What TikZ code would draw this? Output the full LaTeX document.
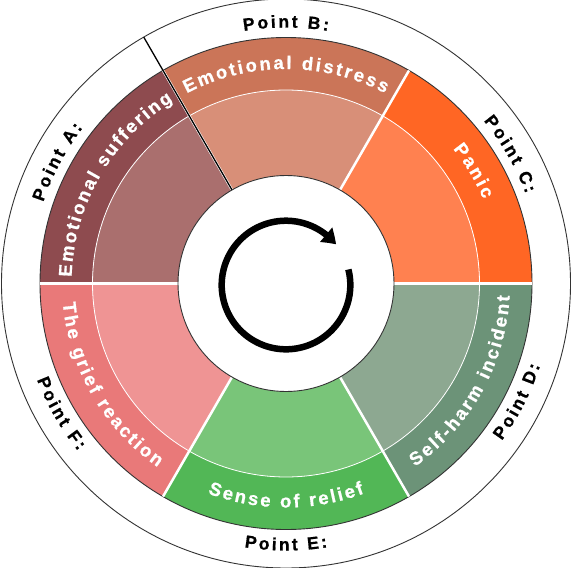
\documentclass[tikz,border=0pt]{standalone}
\usepackage{fontspec}
\setmainfont{Liberation Sans}
\newfontfamily\labbold{Liberation Sans Bold}[FakeBold=0.8]
\usetikzlibrary{calc,arrows.meta,bending}
\definecolor{aout}{HTML}{8E4B4F}
\definecolor{ain}{HTML}{AA6F6E}
\definecolor{bout}{HTML}{CB7558}
\definecolor{bin}{HTML}{D88F78}
\definecolor{cout}{HTML}{FF6624}
\definecolor{cin}{HTML}{FF8150}
\definecolor{dout}{HTML}{6C9378}
\definecolor{din}{HTML}{8DA891}
\definecolor{eout}{HTML}{52B756}
\definecolor{ein}{HTML}{79C579}
\definecolor{fout}{HTML}{E97979}
\definecolor{fin}{HTML}{EF9494}
\definecolor{edgegray}{HTML}{333333}
\newcommand\wfont{\color{white}\labbold\fontsize{18.5}{18.5}\selectfont}
\newcommand\pfont{\color{black}\labbold\fontsize{17.5}{17.5}\selectfont}
\newcommand\ringsector[5]{\fill[#5] ($(C)+(#1:#4)$) arc[start angle=#1,end angle=#2,radius=#4] -- ($(C)+(#2:#3)$) arc[start angle=#2,end angle=#1,radius=#3] -- cycle;}
\newcounter{arcch}
\newcommand\arcplace[4]{\stepcounter{arcch}\node[anchor=base,inner sep=0pt,outer sep=0pt,rotate=#3] (ch\thearcch) at ($(C)+(#1:#2)$) {#4};}
\ExplSyntaxOn
\dim_new:N \l__arc_total_dim
\dim_new:N \l__arc_pos_dim
\dim_new:N \l__arc_track_dim
\box_new:N \l__arc_box
\tl_new:N \g__arc_nodes_tl
\NewDocumentCommand \arctext { m m m m m m }
  {
    \dim_set:Nn \l__arc_track_dim {#4}
    \dim_zero:N \l__arc_total_dim
    \str_map_inline:nn {#6}
      {
        \hbox_set:Nn \l__arc_box { #5 ##1 }
        \dim_add:Nn \l__arc_total_dim { \box_wd:N \l__arc_box + \l__arc_track_dim }
      }
    \dim_sub:Nn \l__arc_total_dim { \l__arc_track_dim }
    \dim_set:Nn \l__arc_pos_dim { -0.5 \l__arc_total_dim }
    \str_map_inline:nn {#6}
      {
        \hbox_set:Nn \l__arc_box { #5 ##1 }
        \tl_gput_right:Nx \g__arc_nodes_tl
          {
            \exp_not:N \arcplace
              { \fp_eval:n { (#1) + (#3) * ( \dim_to_fp:n { \l__arc_pos_dim + 0.5 \box_wd:N \l__arc_box } ) / (#2) * 180 / pi } }
              { #2 }
              { \fp_eval:n { (#1) + (#3) * ( \dim_to_fp:n { \l__arc_pos_dim + 0.5 \box_wd:N \l__arc_box } ) / (#2) * 180 / pi + (#3) * 90 } }
              { \exp_not:n { #5 ##1 } }
          }
        \dim_add:Nn \l__arc_pos_dim { \box_wd:N \l__arc_box + \l__arc_track_dim }
      }
  }
\NewDocumentCommand \arcnodes { } { \tl_use:N \g__arc_nodes_tl }
\ExplSyntaxOff
\begin{document}
% segment labels (positions computed before the picture)
\arctext{150}{214.5}{-1}{2.1pt}{\wfont}{Emotional suffering}%
\arctext{90}{214.5}{-1}{2.4pt}{\wfont}{Emotional distress}%
\arctext{31}{214.5}{-1}{2.4pt}{\wfont}{Panic}%
\arctext{-29}{224}{1}{2.4pt}{\wfont}{Self-harm incident}%
\arctext{-90}{224}{1}{2.4pt}{\wfont}{Sense of relief}%
\arctext{210}{224}{1}{2.4pt}{\wfont}{The grief reaction}%
% point labels
\arctext{152}{256}{-1}{2.5pt}{\pfont}{Point A:}%
\arctext{90}{256}{-1}{2.5pt}{\pfont}{Point B:}%
\arctext{30}{256}{-1}{2.5pt}{\pfont}{Point C:}%
\arctext{-27}{267}{1}{2.5pt}{\pfont}{Point D:}%
\arctext{-90}{267}{1}{2.5pt}{\pfont}{Point E:}%
\arctext{210}{267}{1}{2.5pt}{\pfont}{Point F:}%
\begin{tikzpicture}[x=1pt,y=1pt,
  sepline/.style={line width=2.5pt,draw=white},
  thinedge/.style={draw=edgegray,line width=0.9pt},
]
\fill[white] (0,0) rectangle (572,-567);
\useasboundingbox (0,0) rectangle (572,-567);
\coordinate (C) at (286,-283.5);
\coordinate (AC) at (286,-285);
% outer thin circle
\draw[thinedge] (C) circle[radius=284.5];
% sectors
\ringsector{120}{180}{193.5}{246}{aout}
\ringsector{120}{180}{108}{193.5}{ain}
\ringsector{60}{120}{193.5}{246}{bout}
\ringsector{60}{120}{108}{193.5}{bin}
\ringsector{0}{60}{193.5}{246}{cout}
\ringsector{0}{60}{108}{193.5}{cin}
\ringsector{-60}{0}{193.5}{246}{dout}
\ringsector{-60}{0}{108}{193.5}{din}
\ringsector{-120}{-60}{193.5}{246}{eout}
\ringsector{-120}{-60}{108}{193.5}{ein}
\ringsector{180}{240}{193.5}{246}{fout}
\ringsector{180}{240}{108}{193.5}{fin}
\draw[white,line width=0.8pt] (C) circle[radius=193.5];
\draw[thinedge] (C) circle[radius=246];
\foreach \a in {0,60,...,300} \draw[sepline] ($(C)+(\a:108)$) -- ($(C)+(\a:246)$);
\draw[black,line width=1.3pt] ($(C)+(120:108)$) -- ($(C)+(120:284.5)$);
\draw[thinedge,fill=white] (C) circle[radius=108];
% cycle arrow
\draw[black,line width=6.5pt,-{Triangle[length=14pt,width=18pt,bend]}] ($(AC)+(14:64.3)$) arc[start angle=14,end angle=-321,radius=64.3];
% curved labels, one node per character
\arcnodes
\end{tikzpicture}
\end{document}
